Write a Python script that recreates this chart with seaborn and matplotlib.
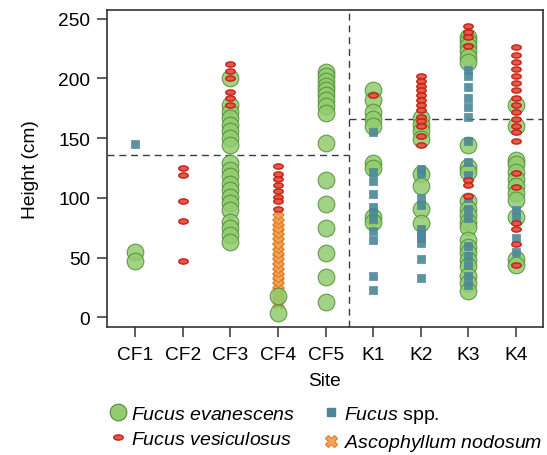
import numpy as np
import pandas as pd
import matplotlib
matplotlib.use("Agg")
import matplotlib.pyplot as plt
from matplotlib.path import Path
from matplotlib.lines import Line2D
import seaborn as sns

sites = ["CF1", "CF2", "CF3", "CF4", "CF5", "K1", "K2", "K3", "K4"]

evanescens = [
    [55, 47],
    [],
    [200, 178, 172, 167, 161, 156, 150, 144, 129, 123, 118, 112, 107, 101, 96, 90, 80, 75, 69, 63],
    [18, 4],
    [205, 202, 198, 194, 190, 186, 182, 177, 171, 146, 115, 95, 75, 54, 34, 13],
    [190, 182, 172, 166, 160, 129, 125, 84, 80],
    [167, 161, 156, 149, 120, 110, 91, 79],
    [235, 231, 227, 223, 218, 214, 144, 126, 122, 97, 91, 86, 80, 76, 65, 59, 54, 48, 43, 35, 29, 22],
    [178, 160, 132, 128, 122, 116, 110, 104, 98, 84, 49, 44],
]
vesiculosus = [
    [],
    [125, 119, 97, 81, 47],
    [212, 206, 200, 189, 184, 178],
    [127, 120, 116, 111, 106, 101, 97, 91],
    [],
    [186],
    [202, 198, 194, 190, 186, 182, 178, 174, 168, 164, 160, 152, 144],
    [244, 239, 235, 227, 115, 111, 102],
    [226, 220, 214, 208, 202, 196, 190, 184, 178, 172, 166, 160, 155, 148, 121, 109, 79, 74, 61, 44],
]
fucus_spp = [
    [145],
    [],
    [],
    [],
    [],
    [155, 122, 114, 103, 92, 88, 82, 72, 65, 35, 23],
    [124, 121, 100, 94, 74, 70, 66, 62, 49, 33],
    [207, 202, 193, 184, 176, 168, 148, 130, 119, 100, 91, 83, 60, 51, 44, 35, 27],
    [90, 84, 66, 55],
]
ascophyllum = [
    [], [], [],
    [84, 80, 76, 72, 68, 64, 60, 55, 51, 47, 43, 39, 35, 31, 27, 23, 19, 15, 12],
    [], [], [], [], [],
]
left_mean = 136
right_mean = 166

sns.set_theme(style="white")
plt.rcParams["font.family"] = ["Liberation Sans", "DejaVu Sans"]
plt.rcParams["mathtext.fontset"] = "custom"
plt.rcParams["mathtext.it"] = "Liberation Sans:italic"
plt.rcParams["mathtext.rm"] = "Liberation Sans"
plt.rcParams["text.color"] = "black"
plt.rcParams["axes.labelcolor"] = "black"

def to_df(series):
    rows = []
    for s, vals in zip(sites, series):
        for v in vals:
            rows.append((s, v))
    return pd.DataFrame(rows, columns=["Site", "Height"])

t = np.linspace(0, 2 * np.pi, 41)
ellipse = Path(np.column_stack([np.cos(t), 0.55 * np.sin(t)]))

fig = plt.figure(figsize=(5.47, 4.56), dpi=100)
ax = fig.add_axes([0.195, 0.281, 0.797, 0.694])

green_face = "#92cc6e"
green_edge = "#4f8f35"
red_face = "#e35b44"
red_edge = "#c41f18"
teal = "#4b8797"
orange_face = "#f5a45a"
orange_edge = "#e07b22"

common = dict(x="Site", y="Height", order=sites, jitter=False, ax=ax)
sns.stripplot(data=to_df(ascophyllum), marker="X", s=8, color=orange_face,
              edgecolor=orange_edge, linewidth=0.8, zorder=2, **common)
sns.stripplot(data=to_df(evanescens), marker="o", s=12, color=green_face,
              edgecolor=green_edge, linewidth=0.8, alpha=0.85, zorder=3, **common)
sns.stripplot(data=to_df(fucus_spp), marker="s", s=5.8, color=teal,
              edgecolor=teal, linewidth=0.5, alpha=0.9, zorder=4, **common)
sns.stripplot(data=to_df(vesiculosus), marker=ellipse, s=6.8, color=red_face,
              edgecolor=red_edge, linewidth=1.0, zorder=5, **common)

ax.set_xlim(-0.6, 8.56)
ax.set_ylim(-8, 257)
ax.set_yticks([0, 50, 100, 150, 200, 250])
ax.axvline(4.5, color="#3a3a3a", lw=1.0, dashes=(5, 3.5), zorder=1)
ax.plot([-0.6, 4.5], [left_mean, left_mean], color="#3a3a3a", lw=1.0, dashes=(5, 3.5), zorder=1)
ax.plot([4.5, 8.56], [right_mean, right_mean], color="#3a3a3a", lw=1.0, dashes=(5, 3.5), zorder=1)

for sp in ax.spines.values():
    sp.set_color("#333333")
    sp.set_linewidth(1.2)
ax.tick_params(axis="both", which="both", direction="out", length=7, width=1.1,
               color="#333333", labelsize=13.8, labelcolor="black", left=True, bottom=True)
ax.tick_params(axis="x", pad=7)
ax.tick_params(axis="y", pad=5)
ax.set_xlabel("Site", fontsize=13.8, labelpad=6)
ax.set_ylabel("Height (cm)", fontsize=13.8, labelpad=14)

handles = [
    Line2D([], [], marker="o", ls="", ms=12, mfc=green_face, mec=green_edge, mew=0.8),
    Line2D([], [], marker=ellipse, ls="", ms=6.8, mfc=red_face, mec=red_edge, mew=1.0),
    Line2D([], [], marker="s", ls="", ms=5.8, mfc=teal, mec=teal),
    Line2D([], [], marker="X", ls="", ms=8, mfc=orange_face, mec=orange_edge, mew=0.8),
]
labels = [r"$\mathit{Fucus\ evanescens}$", r"$\mathit{Fucus\ vesiculosus}$",
          r"$\mathit{Fucus}$ spp.", r"$\mathit{Ascophyllum\ nodosum}$"]
fig.legend(handles, labels, ncol=2, loc="center", bbox_to_anchor=(0.594, 0.058),
           frameon=False, fontsize=14, handletextpad=0.1, handlelength=1.1,
           columnspacing=1.3, labelspacing=0.4)

fig.savefig("out.png", dpi=100)
